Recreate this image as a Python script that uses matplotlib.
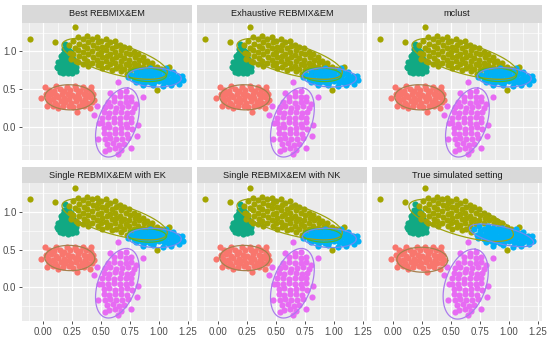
import numpy as np
import matplotlib.pyplot as plt

plt.rcParams['font.family'] = ['Liberation Sans', 'DejaVu Sans']

# panel titles (2 x 3 facets)
panel_titles = ["Best REBMIX&EM", "Exhaustive REBMIX&EM", "mclust",
                "Single REBMIX&EM with EK", "Single REBMIX&EM with NK",
                "True simulated setting"]

# points, one list per cluster
red_pts = [(0.01, 0.53), (0.11, 0.54), (0.20, 0.53), (0.27, 0.54), (0.34, 0.53), (0.41, 0.53),
           (0.03, 0.27), (0.13, 0.25), (0.29, 0.20), (0.40, 0.25), (-0.02, 0.38), (0.44, 0.36),
           (0.05, 0.49), (0.09, 0.48), (0.14, 0.50), (0.18, 0.47), (0.23, 0.49), (0.28, 0.50),
           (0.32, 0.48), (0.37, 0.49), (0.41, 0.47),
           (0.02, 0.43), (0.07, 0.44), (0.11, 0.42), (0.16, 0.44), (0.21, 0.43), (0.25, 0.42),
           (0.30, 0.44), (0.35, 0.43), (0.39, 0.42), (0.43, 0.43),
           (0.04, 0.38), (0.08, 0.37), (0.13, 0.39), (0.18, 0.38), (0.22, 0.37), (0.27, 0.39),
           (0.31, 0.38), (0.36, 0.37), (0.40, 0.39),
           (0.05, 0.33), (0.10, 0.32), (0.15, 0.34), (0.19, 0.33), (0.24, 0.32), (0.28, 0.34),
           (0.33, 0.33), (0.38, 0.32), (0.42, 0.33),
           (0.08, 0.28), (0.12, 0.29), (0.17, 0.27), (0.22, 0.28), (0.26, 0.26), (0.31, 0.28),
           (0.35, 0.27)]

teal_pts = [(0.19, 1.10), (0.21, 1.06), (0.18, 1.03), (0.22, 1.01), (0.20, 0.99), (0.17, 0.97),
            (0.23, 0.96), (0.19, 0.95), (0.21, 0.93), (0.16, 0.92), (0.24, 0.92), (0.18, 0.90),
            (0.22, 0.89), (0.15, 0.88), (0.20, 0.87), (0.25, 0.87), (0.17, 0.85), (0.23, 0.84),
            (0.14, 0.83), (0.19, 0.82), (0.26, 0.82), (0.16, 0.80), (0.21, 0.80), (0.24, 0.78),
            (0.13, 0.78), (0.18, 0.77), (0.27, 0.77), (0.15, 0.75), (0.20, 0.75), (0.23, 0.74),
            (0.17, 0.72), (0.21, 0.71), (0.25, 0.72), (0.28, 0.74), (0.15, 0.94), (0.24, 0.99),
            (0.13, 0.86), (0.26, 0.90), (0.12, 0.80), (0.28, 0.80), (0.14, 0.73)]

olive_pts = [(-0.12, 1.17), (0.10, 1.13), (0.27, 1.32), (0.98, 0.49), (1.09, 0.80),
             (0.22, 1.08), (0.23, 0.98), (0.24, 0.90),
             (0.26, 1.14), (0.27, 1.05), (0.26, 0.96), (0.28, 0.88),
             (0.30, 1.19), (0.31, 1.10), (0.30, 1.02), (0.31, 0.94), (0.30, 0.86),
             (0.34, 1.16), (0.35, 1.07), (0.34, 0.99), (0.35, 0.91), (0.34, 0.84),
             (0.38, 1.20), (0.39, 1.12), (0.38, 1.04), (0.39, 0.96), (0.38, 0.88), (0.39, 0.81),
             (0.42, 1.17), (0.43, 1.09), (0.42, 1.01), (0.43, 0.93), (0.42, 0.85),
             (0.46, 1.19), (0.47, 1.12), (0.46, 1.05), (0.47, 0.97), (0.46, 0.89), (0.47, 0.82),
             (0.50, 1.14), (0.51, 1.06), (0.50, 0.99), (0.51, 0.92), (0.50, 0.85), (0.51, 0.78),
             (0.54, 1.17), (0.55, 1.09), (0.54, 1.02), (0.55, 0.94), (0.54, 0.87), (0.55, 0.80),
             (0.58, 1.12), (0.59, 1.04), (0.58, 0.97), (0.59, 0.90), (0.58, 0.83), (0.59, 0.76),
             (0.62, 1.14), (0.63, 1.07), (0.62, 0.99), (0.63, 0.92), (0.62, 0.85), (0.63, 0.78),
             (0.66, 1.09), (0.67, 1.02), (0.66, 0.95), (0.67, 0.88), (0.66, 0.81), (0.67, 0.74),
             (0.70, 1.06), (0.71, 0.98), (0.70, 0.91), (0.71, 0.84),
             (0.74, 1.04), (0.75, 0.96), (0.74, 0.89),
             (0.78, 0.99), (0.79, 0.92), (0.78, 0.85),
             (0.82, 0.96), (0.83, 0.89), (0.86, 0.92), (0.87, 0.86),
             (0.90, 0.88), (0.91, 0.82), (0.94, 0.85), (0.98, 0.80), (1.02, 0.77)]

# olive in the fitted panels, blue in the true setting
shared_pts = [(0.70, 0.77), (0.72, 0.70), (0.74, 0.82), (0.75, 0.75), (0.78, 0.78), (0.80, 0.72),
              (0.82, 0.82), (0.83, 0.76), (0.86, 0.79), (0.88, 0.74), (0.90, 0.77), (0.94, 0.79),
              (0.97, 0.75)]

blue_pts = [(0.80, 0.74), (0.84, 0.73), (0.88, 0.74), (0.92, 0.73), (0.96, 0.74), (1.00, 0.73),
            (1.04, 0.74), (1.08, 0.72), (1.12, 0.73),
            (0.76, 0.69), (0.80, 0.68), (0.84, 0.70), (0.88, 0.69), (0.92, 0.68), (0.96, 0.70),
            (1.00, 0.69), (1.04, 0.68), (1.08, 0.70), (1.12, 0.69), (1.16, 0.68),
            (0.78, 0.64), (0.82, 0.65), (0.86, 0.64), (0.90, 0.65), (0.94, 0.64), (0.98, 0.65),
            (1.02, 0.64), (1.06, 0.65), (1.10, 0.64), (1.14, 0.65), (1.18, 0.64),
            (0.80, 0.60), (0.84, 0.61), (0.88, 0.60), (0.92, 0.59), (0.96, 0.60), (1.00, 0.61),
            (1.04, 0.60), (1.08, 0.59), (1.12, 0.60), (1.16, 0.61),
            (0.73, 0.66), (1.20, 0.68), (1.21, 0.62), (0.86, 0.55), (0.95, 0.56), (1.03, 0.54),
            (1.10, 0.55), (1.17, 0.57), (1.06, 0.78), (0.92, 0.78)]

magenta_pts = [(0.66, 0.46), (0.71, 0.47),
               (0.61, 0.40), (0.66, 0.41), (0.71, 0.39), (0.76, 0.40),
               (0.56, 0.33), (0.61, 0.34), (0.66, 0.32), (0.71, 0.33), (0.76, 0.34),
               (0.53, 0.26), (0.58, 0.27), (0.63, 0.25), (0.68, 0.26), (0.73, 0.27), (0.78, 0.25),
               (0.52, 0.19), (0.57, 0.18), (0.62, 0.20), (0.67, 0.19), (0.72, 0.18), (0.77, 0.19),
               (0.51, 0.12), (0.56, 0.13), (0.61, 0.11), (0.66, 0.12), (0.71, 0.13), (0.76, 0.12),
               (0.51, 0.05), (0.56, 0.04), (0.61, 0.06), (0.66, 0.05), (0.71, 0.04), (0.76, 0.06),
               (0.52, -0.02), (0.57, -0.01), (0.62, -0.03), (0.67, -0.02), (0.72, -0.01), (0.77, -0.03),
               (0.52, -0.09), (0.57, -0.10), (0.62, -0.08), (0.67, -0.09), (0.72, -0.10),
               (0.53, -0.16), (0.58, -0.15), (0.63, -0.17), (0.68, -0.16), (0.73, -0.15),
               (0.55, -0.23), (0.60, -0.22), (0.65, -0.24), (0.70, -0.23),
               (0.57, -0.30), (0.62, -0.29), (0.67, -0.31),
               (0.44, 0.16), (0.47, -0.16), (0.53, -0.33), (0.645, -0.36), (0.76, -0.29),
               (0.86, 0.39), (0.82, 0.02), (0.645, 0.60), (0.80, 0.30), (0.48, 0.05),
               (0.46, 0.27), (0.81, -0.12), (0.58, 0.45)]

# ellipses: centre x, centre y, semi-major, semi-minor, angle (deg, data units)
fit_ellipses = [("red", 0.228, 0.39, 0.216, 0.167, -4),
                ("olive", 0.616, 0.903, 0.496, 0.19, -25.4),
                ("green", 0.897, 0.69, 0.168, 0.09, -5),
                ("blue", 0.96, 0.656, 0.233, 0.127, -5),
                ("magenta", 0.64, 0.056, 0.468, 0.17, 79)]
true_ellipses = [("red", 0.25, 0.367, 0.22, 0.165, -3),
                 ("olive", 0.586, 0.889, 0.496, 0.19, -26.6),
                 ("blue", 0.935, 0.69, 0.296, 0.11, -21.8),
                 ("magenta", 0.625, 0.045, 0.47, 0.18, 80)]

pt_colors = {"red": "#F8766D", "olive": "#A3A500", "teal": "#11A983",
             "blue": "#00B0F6", "magenta": "#E76BF3"}
ell_colors = {"red": "#A5804E", "olive": "#9DA20E", "green": "#49B830",
              "blue": "#6C8CF2", "magenta": "#AC7BEE"}

W, H = 550, 341
fig = plt.figure(figsize=(W / 100, H / 100), dpi=100)

col_left = [22, 197, 372]
panel_w = 170
rows = [(5, 22.7, 160), (167.3, 183, 321)]   # strip top, panel top, panel bottom


def draw_ellipse(ax, cx, cy, a, b, ang, color):
    t = np.linspace(0, 2 * np.pi, 200)
    th = np.deg2rad(ang)
    ex = cx + a * np.cos(t) * np.cos(th) - b * np.sin(t) * np.sin(th)
    ey = cy + a * np.cos(t) * np.sin(th) + b * np.sin(t) * np.cos(th)
    ax.plot(ex, ey, color=color, lw=0.9, zorder=4)


for i, title in enumerate(panel_titles):
    r, c = divmod(i, 3)
    s_top, p_top, p_bot = rows[r]
    left = col_left[c] / W
    ax = fig.add_axes([left, 1 - p_bot / H, panel_w / W, (p_bot - p_top) / H])
    sax = fig.add_axes([left, 1 - p_top / H, panel_w / W, (p_top - s_top) / H])
    sax.set_facecolor("#D9D9D9")
    sax.set_xticks([])
    sax.set_yticks([])
    for sp in sax.spines.values():
        sp.set_visible(False)
    sax.text(0.5, 0.5, title, ha="center", va="center", fontsize=6.6, color="#1A1A1A",
             transform=sax.transAxes)

    ax.set_facecolor("#EBEBEB")
    for sp in ax.spines.values():
        sp.set_visible(False)
    ax.set_xlim(-0.185, 1.285)
    ax.set_ylim(-0.444, 1.383)
    ax.set_xticks([0, 0.25, 0.5, 0.75, 1.0, 1.25])
    ax.set_xticks([-0.125, 0.125, 0.375, 0.625, 0.875, 1.125], minor=True)
    ax.set_yticks([0, 0.5, 1.0])
    ax.set_yticks([-0.25, 0.25, 0.75, 1.25], minor=True)
    ax.grid(which="major", color="white", lw=0.9)
    ax.grid(which="minor", color="white", lw=0.45)
    ax.set_axisbelow(True)
    ax.tick_params(which="minor", length=0)
    ax.tick_params(which="major", length=2.5, width=0.6, color="#333333",
                   labelsize=7, labelcolor="#4D4D4D", pad=1.5)
    if r == 0:
        ax.tick_params(axis="x", which="major", length=0, labelbottom=False)
    else:
        ax.set_xticklabels(["0.00", "0.25", "0.50", "0.75", "1.00", "1.25"])
    if c == 0:
        ax.set_yticklabels(["0.0", "0.5", "1.0"])
    else:
        ax.tick_params(axis="y", which="major", length=0, labelleft=False)

    truth = (i == 5)
    groups = [("red", red_pts), ("teal", teal_pts), ("olive", olive_pts),
              ("blue" if truth else "olive", shared_pts), ("blue", blue_pts),
              ("magenta", magenta_pts)]
    for key, pts in groups:
        xy = np.array(pts)
        ax.scatter(xy[:, 0], xy[:, 1], s=20, color=pt_colors[key], linewidths=0, zorder=3)

    for key, cx, cy, a, b, ang in (true_ellipses if truth else fit_ellipses):
        draw_ellipse(ax, cx, cy, a, b, ang, ell_colors[key])

fig.savefig("out.png", dpi=100)
